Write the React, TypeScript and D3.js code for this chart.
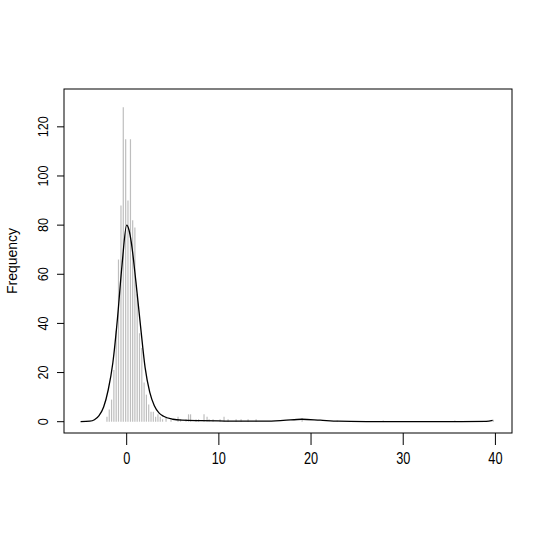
import React from "react";
import * as d3 from "d3";

// Histogram-like frequency bars (x position, frequency)
const barX = [
  -2.14, -1.89, -1.64, -1.39, -1.14, -0.89, -0.62, -0.37, -0.11, 0.14, 0.41, 0.65, 0.89, 1.14, 1.39,
  1.64, 1.89, 2.14, 2.39, 2.64, 2.89, 3.14, 3.39, 3.64, 3.89, 4.27, 4.81, 5.57, 5.84, 6.44, 6.71,
  6.93, 7.52, 7.8, 8.39, 8.72, 8.94, 9.37, 10.13, 10.56, 11.0, 11.87, 12.41, 13.17, 14.04, 19.03,
  22.84, 27.83, 35.6, 39.77,
];
const barFreq = [
  2, 5, 9, 21, 37, 66, 88, 128, 115, 90, 115, 82, 79, 52, 36,
  30, 16, 11, 7, 4, 4, 2, 3, 2, 1, 2, 1, 2, 1, 1, 3,
  3, 1, 1, 3, 2, 1, 1, 1, 2, 1, 1, 1, 1, 1, 1.5,
  0.5, 0.5, 0.5, 0.8,
];

// Density curve scaled to frequency (x, value)
const curveX = [
  -5, -4, -3.5, -3, -2.5, -2, -1.5, -1, -0.5, 0, 0.25, 0.5, 1, 1.5, 2, 2.5, 3, 3.5, 4, 5, 6, 8,
  10, 12, 15, 17, 19, 21, 23, 26, 30, 35, 39, 39.7,
];
const curveY = [
  0, 0.2, 0.8, 2.5, 6, 13, 24, 42, 64, 80, 78, 73, 57, 39, 22, 12, 6.5, 3.6, 2.2, 1.0, 0.6, 0.4,
  0.3, 0.2, 0.2, 0.5, 1, 0.6, 0.2, 0.05, 0, 0, 0.1, 0.5,
];

const xTicks = [0, 10, 20, 30, 40];
const yTicks = [0, 20, 40, 60, 80, 100, 120];
const yLabel = "Frequency";

export default function App() {
  const W = 545;
  const H = 545;
  const left = 64;
  const right = 512;
  const top = 89;
  const bottom = 433;
  const x = d3.scaleLinear().domain([-6.8, 41.8]).range([left, right]);
  const y = d3.scaleLinear().domain([-4.6, 135.4]).range([bottom, top]);

  const line = d3
    .line<number>()
    .x((_, i) => x(curveX[i]))
    .y((d) => y(d))
    .curve(d3.curveMonotoneX);

  const font = "'Liberation Sans', Arial, Helvetica, sans-serif";

  return (
    <svg
      width={W}
      height={H}
      style={{ position: "absolute", left: 0, top: 0, background: "#fff" }}
      fontFamily={font}
    >
      <rect x={0} y={0} width={W} height={H} fill="#fff" />
      {barX.map((bx, i) => (
        <line
          key={i}
          x1={x(bx)}
          x2={x(bx)}
          y1={y(0)}
          y2={y(barFreq[i])}
          stroke="#bebebe"
          strokeWidth={1.2}
        />
      ))}
      <path d={line(curveY) || ""} fill="none" stroke="#000" strokeWidth={1.3} />
      <rect
        x={left}
        y={top}
        width={right - left}
        height={bottom - top}
        fill="none"
        stroke="#000"
        strokeWidth={1}
      />
      {/* x axis */}
      {xTicks.map((t) => (
        <g key={t}>
          <line x1={x(t)} x2={x(t)} y1={bottom} y2={bottom + 12} stroke="#000" />
          <text
            transform={`translate(${x(t)},464) scale(0.85,1.1)`}
            textAnchor="middle"
            fontSize={15}
          >
            {t}
          </text>
        </g>
      ))}
      {/* y axis */}
      {yTicks.map((t) => (
        <g key={t}>
          <line x1={left - 7} x2={left} y1={y(t)} y2={y(t)} stroke="#000" />
          <text
            transform={`translate(48,${y(t)}) rotate(-90) scale(0.9,1)`}
            textAnchor="middle"
            fontSize={14}
          >
            {t}
          </text>
        </g>
      ))}
      <text
        transform={`translate(17,${(top + bottom) / 2}) rotate(-90)`}
        textAnchor="middle"
        fontSize={14}
      >
        {yLabel}
      </text>
    </svg>
  );
}
